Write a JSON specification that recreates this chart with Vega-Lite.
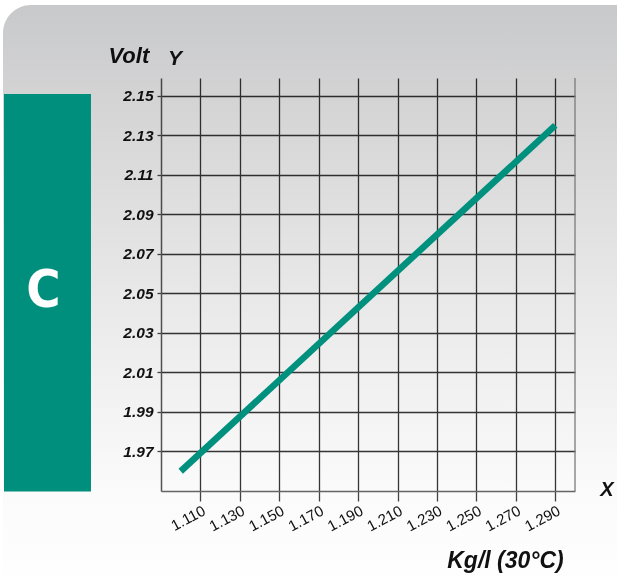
{
  "$schema": "https://vega.github.io/schema/vega-lite/v6.json",
  "width": 414,
  "height": 413,
  "autosize": {"type": "none"},
  "padding": {"left": 161, "top": 78, "right": 42, "bottom": 85},
  "background": "#ffffff",
  "config": {
    "font": "Liberation Sans",
    "view": {"stroke": null},
    "axisX": {
      "labelAngle": -28,
      "labelAlign": "right",
      "labelBaseline": "top",
      "labelFont": "Liberation Sans",
      "labelFontSize": 15,
      "labelColor": "#111111",
      "labelPadding": 2,
      "labelFlush": false,
      "labelOverlap": false,
      "labelBound": false,
      "tickSize": 10,
      "tickColor": "#444444",
      "tickWidth": 1.3,
      "domainColor": "#666666",
      "domainWidth": 1.5,
      "grid": true,
      "gridColor": "#363636",
      "gridWidth": 1.3,
      "gridOpacity": 1,
      "titleFont": "Liberation Sans",
      "titleFontStyle": "italic",
      "titleFontWeight": "bold",
      "titleFontSize": 23,
      "titleColor": "#111111",
      "titleAngle": 0,
      "titleAlign": "center",
      "titleBaseline": "alphabetic",
      "titleX": 344,
      "titleY": 76
    },
    "axisY": {
      "labelFont": "Liberation Sans",
      "labelFontStyle": "italic",
      "labelFontWeight": "bold",
      "labelFontSize": 15.5,
      "labelColor": "#111111",
      "labelPadding": 4,
      "labelFlush": false,
      "labelOverlap": false,
      "labelBound": false,
      "tickSize": 4,
      "tickColor": "#444444",
      "tickWidth": 1.3,
      "domainColor": "#555555",
      "domainWidth": 1.5,
      "grid": true,
      "gridColor": "#363636",
      "gridWidth": 1.3,
      "gridOpacity": 1,
      "titleFont": "Liberation Sans",
      "titleFontStyle": "italic",
      "titleFontWeight": "bold",
      "titleFontSize": 22,
      "titleColor": "#111111",
      "titleAngle": 0,
      "titleAlign": "left",
      "titleBaseline": "alphabetic",
      "titleX": -53,
      "titleY": -16
    }
  },
  "layer": [
    {
      "data": {"values": [{"part": "background"}]},
      "mark": {
        "type": "rect",
        "blend": "multiply",
        "cornerRadiusTopLeft": 28,
        "fill": {
          "gradient": "linear",
          "x1": 0, "y1": 0, "x2": 0, "y2": 1,
          "stops": [
            {"offset": 0, "color": "#c8c9cb"},
            {"offset": 0.15, "color": "#d3d3d4"},
            {"offset": 0.3, "color": "#dcdcdc"},
            {"offset": 0.5, "color": "#e8e8e8"},
            {"offset": 0.7, "color": "#f3f3f3"},
            {"offset": 0.85, "color": "#fbfbfb"},
            {"offset": 1, "color": "#fefefe"}
          ]
        }
      },
      "encoding": {
        "x": {"datum": 1.00985, "type": "quantitative", "scale": {"domain": [1.09, 1.30], "nice": false, "zero": false}},
        "x2": {"datum": 1.3228},
        "y": {"datum": 2.196, "type": "quantitative", "scale": {"domain": [1.95, 2.159], "nice": false, "zero": false}},
        "y2": {"datum": 1.905}
      }
    },
    {
      "data": {"values": [{"part": "border"}]},
      "mark": {"type": "rule", "color": "#7a7a7a", "strokeWidth": 1.3},
      "encoding": {
        "x": {"datum": 1.30, "type": "quantitative", "scale": {"domain": [1.09, 1.30], "nice": false, "zero": false}},
        "y": {"datum": 1.95, "type": "quantitative", "scale": {"domain": [1.95, 2.159], "nice": false, "zero": false}},
        "y2": {"datum": 2.159}
      }
    },
    {
      "data": {"values": [{"part": "tab"}]},
      "mark": {"type": "rect", "color": "#008f7c"},
      "encoding": {
        "x": {"datum": 1.01036, "type": "quantitative", "scale": {"domain": [1.09, 1.30], "nice": false, "zero": false}},
        "x2": {"datum": 1.05449},
        "y": {"datum": 2.1509, "type": "quantitative", "scale": {"domain": [1.95, 2.159], "nice": false, "zero": false}},
        "y2": {"datum": 1.9497}
      }
    },
    {
      "data": {"values": [{"label": "C"}]},
      "mark": {"type": "text", "color": "#ffffff", "font": "DejaVu Sans Condensed", "fontWeight": "bold", "fontSize": 52, "align": "center", "baseline": "alphabetic"},
      "encoding": {
        "x": {"datum": 1.0304, "type": "quantitative", "scale": {"domain": [1.09, 1.30], "nice": false, "zero": false}},
        "y": {"datum": 2.0431, "type": "quantitative", "scale": {"domain": [1.95, 2.159], "nice": false, "zero": false}},
        "text": {"field": "label"}
      }
    },
    {
      "data": {"values": [{"label": "Y"}]},
      "mark": {"type": "text", "color": "#111111", "fontStyle": "italic", "fontWeight": "bold", "fontSize": 21, "align": "center", "baseline": "alphabetic"},
      "encoding": {
        "x": {"datum": 1.0971, "type": "quantitative", "scale": {"domain": [1.09, 1.30], "nice": false, "zero": false}},
        "y": {"datum": 2.1656, "type": "quantitative", "scale": {"domain": [1.95, 2.159], "nice": false, "zero": false}},
        "text": {"field": "label"}
      }
    },
    {
      "data": {"values": [{"label": "X"}]},
      "mark": {"type": "text", "color": "#111111", "fontStyle": "italic", "fontWeight": "bold", "fontSize": 20, "align": "center", "baseline": "alphabetic"},
      "encoding": {
        "x": {"datum": 1.3162, "type": "quantitative", "scale": {"domain": [1.09, 1.30], "nice": false, "zero": false}},
        "y": {"datum": 1.9475, "type": "quantitative", "scale": {"domain": [1.95, 2.159], "nice": false, "zero": false}},
        "text": {"field": "label"}
      }
    },
    {
      "data": {"values": [
        {"density": 1.100, "volt": 1.960},
        {"density": 1.290, "volt": 2.135}
      ]},
      "mark": {"type": "line", "color": "#00907e", "strokeWidth": 6.5, "strokeCap": "butt"},
      "encoding": {
        "x": {
          "field": "density", "type": "quantitative",
          "scale": {"domain": [1.09, 1.30], "nice": false, "zero": false},
          "axis": {"title": "Kg/l (30°C)", "values": [1.11, 1.13, 1.15, 1.17, 1.19, 1.21, 1.23, 1.25, 1.27, 1.29], "format": ".3f"}
        },
        "y": {
          "field": "volt", "type": "quantitative",
          "scale": {"domain": [1.95, 2.159], "nice": false, "zero": false},
          "axis": {"title": "Volt", "values": [1.97, 1.99, 2.01, 2.03, 2.05, 2.07, 2.09, 2.11, 2.13, 2.15], "format": ".2f"}
        }
      }
    }
  ]
}
